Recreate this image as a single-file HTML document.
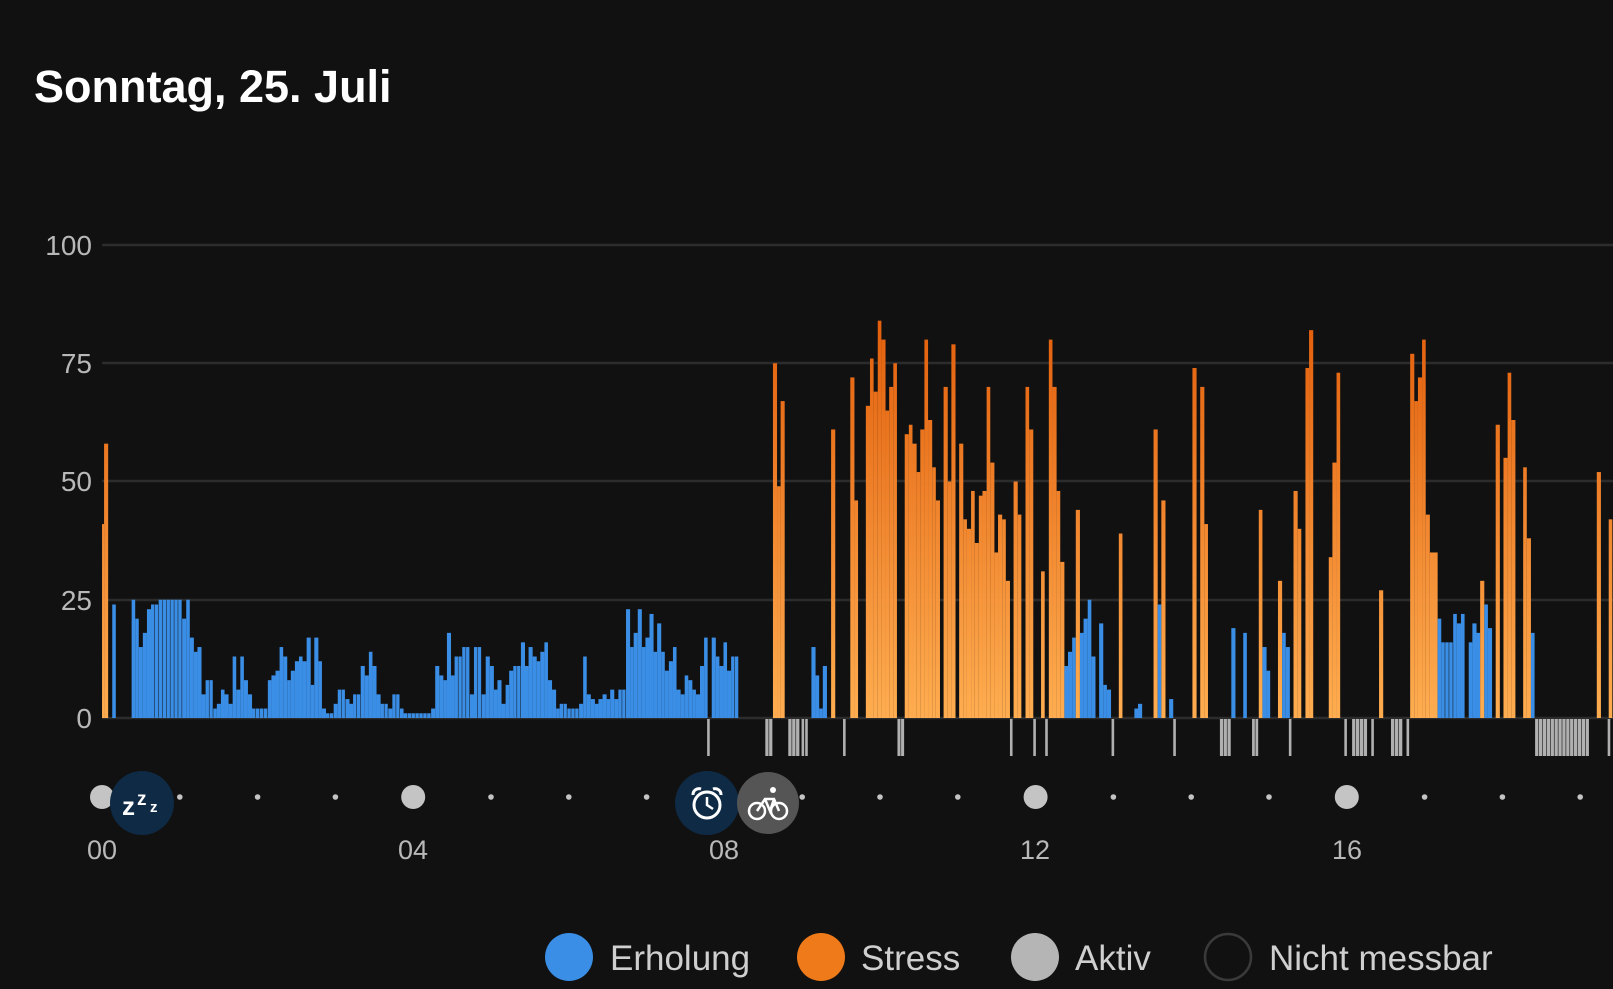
<!DOCTYPE html>
<html><head><meta charset="utf-8"><style>
html,body{margin:0;padding:0;background:#111111;}
svg{display:block;}
text{font-family:"Liberation Sans",sans-serif;}
</style></head><body>
<svg id="s" width="1613" height="989" viewBox="0 0 1613 989" xmlns="http://www.w3.org/2000/svg">
<defs>
<linearGradient id="og" gradientUnits="userSpaceOnUse" x1="0" y1="320" x2="0" y2="718">
<stop offset="0" stop-color="#e35f0c"/><stop offset="1" stop-color="#ffad50"/>
</linearGradient>
</defs>
<rect width="1613" height="989" fill="#111111"/>
<text x="34" y="102" font-size="45" font-weight="bold" fill="#ffffff">Sonntag, 25. Juli</text>
<g stroke="#2c2c2c" stroke-width="2.5">
<line x1="102" y1="245" x2="1613" y2="245"/>
<line x1="102" y1="363" x2="1613" y2="363"/>
<line x1="102" y1="481" x2="1613" y2="481"/>
<line x1="102" y1="600" x2="1613" y2="600"/>
<line x1="102" y1="718" x2="1613" y2="718"/>
</g>
<g font-size="28" fill="#b8b8b8" text-anchor="end">
<text x="92" y="255">100</text>
<text x="92" y="373">75</text>
<text x="92" y="491">50</text>
<text x="92" y="610">25</text>
<text x="92" y="728">0</text>
</g>
<g id="bars"></g>
<g id="dots"></g>
<g font-size="27" fill="#b8b8b8" text-anchor="middle">
<text x="102" y="859">00</text>
<text x="413" y="859">04</text>
<text x="724" y="859">08</text>
<text x="1035" y="859">12</text>
<text x="1347" y="859">16</text>
</g>
<circle cx="142" cy="803" r="32" fill="#0f2a45"/>
<text x="122" y="815" font-size="26" font-weight="bold" fill="#fff">z</text>
<text x="137" y="805" font-size="19" font-weight="bold" fill="#fff">z</text>
<text x="150" y="812" font-size="15" font-weight="bold" fill="#fff">z</text>
<circle cx="707" cy="803" r="32" fill="#0f2a45"/>
<circle cx="707" cy="805" r="13" fill="none" stroke="#fff" stroke-width="3"/>
<path d="M707 797 V805 L713 809" fill="none" stroke="#fff" stroke-width="2.5"/>
<path d="M693 795 a6 6 0 0 1 8 -6 M721 795 a6 6 0 0 0 -8 -6" fill="none" stroke="#fff" stroke-width="3"/>
<circle cx="768" cy="803" r="31" fill="#555555"/>
<circle cx="757" cy="811" r="8" fill="none" stroke="#fff" stroke-width="2.5"/>
<circle cx="779" cy="811" r="8" fill="none" stroke="#fff" stroke-width="2.5"/>
<path d="M757 811 L765 799 L774 799 L779 811 M765 799 L770 811 L774 799" fill="none" stroke="#fff" stroke-width="2.5"/>
<circle cx="773" cy="790" r="3" fill="#fff"/>
<circle cx="569" cy="957" r="24" fill="#3a8ee6"/>
<text x="610" y="970" font-size="35" fill="#cfcfcf">Erholung</text>
<circle cx="821" cy="957" r="24" fill="#ef7a1a"/>
<text x="861" y="970" font-size="35" fill="#cfcfcf">Stress</text>
<circle cx="1035" cy="957" r="24" fill="#b5b5b5"/>
<text x="1075" y="970" font-size="35" fill="#cfcfcf">Aktiv</text>
<circle cx="1228" cy="957" r="23" fill="none" stroke="#3a3a3a" stroke-width="2.5"/>
<text x="1269" y="970" font-size="35" fill="#cfcfcf">Nicht messbar</text>
</svg>
<script>
(function(){
var NS="http://www.w3.org/2000/svg";
var bars=document.getElementById("bars");
function rect(x,y,w,h,f){var r=document.createElementNS(NS,"rect");r.setAttribute("x",x.toFixed(2));r.setAttribute("y",y.toFixed(2));r.setAttribute("width",Math.max(w,0.8).toFixed(2));r.setAttribute("height",h.toFixed(2));r.setAttribute("fill",f);bars.appendChild(r);}
var Z0=718,S=473/100;
function draw(str,off,sc,end){
 var a=str.split(",").map(function(p){var q=p.split(":");return [parseFloat(q[0]),parseFloat(q[1])];});
 for(var i=0;i<a.length;i++){
  var s=a[i][0],v=a[i][1],e=(i+1<a.length)?a[i+1][0]:end;
  if(v===0)continue;
  var x0=off+s/sc,x1=off+e/sc,len=x1-x0;
  var n=Math.max(1,Math.round(len/3.89)),w=len/n;
  var col=v>0?"#3a8ee6":"url(#og)";var h=Math.abs(v)*S;
  for(var k=0;k<n;k++)rect(x0+k*w,Z0-h,w-(n>1?0.5:0),h,col);
 }
}
var z1="200:-41,204:-58,212:0,220:24,227:0,258:25,265:21,272:15,280:18,288:23,296:24,311:25,357:21,365:25,372:17,380:14,387:15,395:5,403:8,418:2,425:3,433:6,440:5,448:3,456:13,463:6,471:13,478:8,486:5,494:2,525:8,532:9,540:10,548:15,555:13,563:8,570:10,578:12,586:13,593:12,601:17,609:7,616:17,624:12,631:2,639:1,654:3,662:6,677:4,685:3,692:5,707:11,715:9,723:14,730:11,738:5,746:3,761:2,769:5,784:2,791:1,845:2,853:11,861:9,869:8,876:18,884:9,891:13,906:15,921:5,929:15,944:5,952:13,960:11,968:6,975:8,983:3,991:7,998:10,1006:11,1021:16,1029:11,1036:15,1044:13,1052:12,1059:14,1067:16,1074:8,1082:6,1090:2,1097:3,1112:2,1135:3,1143:13,1150:5,1158:4,1166:3,1173:4,1181:5,1189:4,1196:6,1204:4,1212:6,1227:23,1235:15,1242:18,1250:23,1258:15,1265:17,1273:22,1281:14,1288:20,1296:14,1303:10,1311:12,1319:15,1326:6,1334:5,1342:9,1349:8,1357:6,1364:5,1372:11,1380:17,1387:0,1395:17,1403:13,1410:11,1418:16,1425:10,1433:13,1448:0,1515:-75,1523:-49,1530:-67,1538:0";
draw(z1,0,1.96,1568);
var z2="22:15,30:9,37:2,44:11,52:0,60:-61,68:0,97:-72,105:-46,112:0,127:-66,135:-76,142:-69,150:-84,157:-80,165:-65,172:-70,180:-75,187:0,202:-60,210:-62,217:-58,225:-52,232:-61,240:-80,247:-63,255:-53,262:-46,270:0,277:-70,285:-50,292:-79,300:0,307:-58,315:-42,322:-40,330:-48,337:-37,345:-47,352:-48,360:-70,367:-54,375:-35,382:-43,390:-42,397:-29,405:0,412:-50,420:-43,427:0,435:-70,442:-61,450:0,465:-31,472:0,480:-80,487:-70,495:-48,502:-33,510:11,517:14,525:17,532:-44,540:18,547:21,555:25,562:13,570:0,577:20,585:7,592:6,600:0,615:-39,622:0,645:2,652:3,660:0,682:-61,690:24,697:-46,705:0,712:4,720:0,757:-74,765:0,772:-70,780:-41,787:0,832:19,840:0,855:18,862:0,885:-44,892:15,900:10,907:0,922:-29,930:18,937:15,945:0,952:-48,960:-40,967:0,975:-74,982:-82,990:0,1020:-34,1027:-54,1035:-73,1042:0,1117:-27,1125:0,1177:-77,1185:-67,1192:-72,1200:-80,1207:-43,1215:-35,1222:-35,1230:21,1237:16,1260:22,1267:20,1275:22,1282:0,1290:16,1297:20,1305:18,1312:-29,1320:24,1327:19,1335:0,1342:-62,1350:0,1357:-55,1365:-73,1372:-63,1380:0,1395:-53,1402:-38,1410:18,1417:0,1537:-52,1545:0,1560:-42,1567:0";
draw(z2,800,1.929,1568);
function ticks(list,off,sc){list.forEach(function(t){var x0=off+t[0]/sc,x1=off+t[1]/sc,len=x1-x0;
 if(len<4){rect(x0,719,2.6,37,"#b0b0b0");return;}
 var n=Math.max(1,Math.round(len/3.89)),w=len/n;for(var k=0;k<n;k++)rect(x0+k*w,719,w-0.6,37,"#b0b0b0");});}
ticks([[1386,1391],[1500,1515],[1545,1568]],0,1.96);
ticks([[3,7],[10,14],[83,88],[188,202],[405,410],[450,455],[473,478],[601,606],[720,725],[810,832],[872,885],[943,948],[1050,1055],[1065,1095],[1102,1107],[1140,1163],[1170,1175],[1418,1523],[1558,1563]],800,1.929);
var dots=document.getElementById("dots");
for(var h=0;h<=19;h++){var x=102+h*77.8;var c=document.createElementNS(NS,"circle");
 var big=(h%4===0);c.setAttribute("cx",x);c.setAttribute("cy",797);c.setAttribute("r",big?12:2.8);c.setAttribute("fill","#c4c4c4");dots.appendChild(c);}
})();
</script>
</body></html>
